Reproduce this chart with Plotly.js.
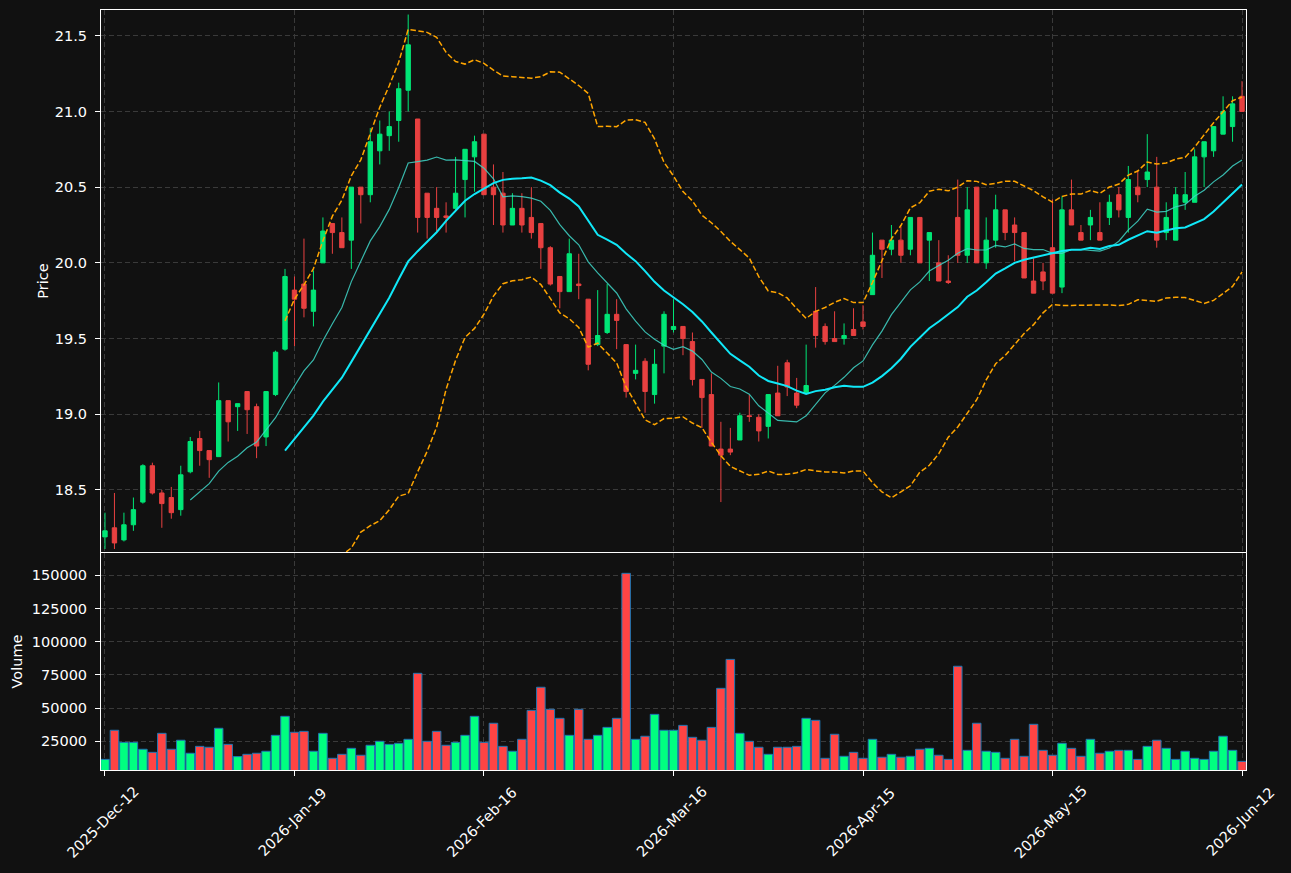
<!DOCTYPE html>
<html><head><meta charset="utf-8">
<script src="https://cdn.plot.ly/plotly-3.0.1.min.js"></script>
<style>html,body{margin:0;padding:0;background:#111111;}#chart{width:1291px;height:873px;}</style>
</head><body><div id="chart"></div>
<script>
// x tick labels (every 20th session)
const tickIndex = [0, 20, 40, 60, 80, 100, 120];
const tickLabels = ['2025-Dec-12', '2026-Jan-19', '2026-Feb-16', '2026-Mar-16', '2026-Apr-15', '2026-May-15', '2026-Jun-12'];

const openP = [18.19,18.25,18.17,18.27,18.42,18.66,18.48,18.45,18.37,18.62,
18.84,18.76,18.72,19.09,19.05,19.15,19.05,18.85,19.13,19.43,
19.82,19.86,19.68,20.00,20.26,20.20,20.15,20.50,20.45,20.74,
20.84,20.94,21.14,20.95,20.46,20.36,20.31,20.36,20.55,20.70,
20.85,20.50,20.46,20.25,20.36,20.30,20.26,20.10,19.91,19.81,
19.86,19.76,19.46,19.54,19.66,19.46,19.27,19.35,19.13,19.45,
19.56,19.58,19.48,19.23,19.13,18.77,18.77,18.83,18.99,18.98,
18.92,19.14,19.34,19.14,19.14,19.68,19.58,19.50,19.50,19.56,
19.61,19.79,20.15,20.09,20.15,20.09,20.30,20.15,20.00,19.88,
20.30,20.05,20.50,20.00,20.15,20.35,20.25,20.20,19.88,19.94,
20.10,19.84,20.35,20.20,20.25,20.20,20.30,20.45,20.30,20.50,
20.55,20.50,20.20,20.15,20.40,20.40,20.70,20.74,20.85,20.90,
21.10];

const highP = [18.35,18.48,18.35,18.45,18.67,18.68,18.50,18.52,18.66,18.85,
18.89,18.76,19.21,19.09,19.07,19.15,19.07,19.15,19.42,19.96,
19.91,20.16,19.95,20.30,20.26,20.30,20.50,20.50,20.89,20.94,
21.00,21.19,21.64,20.95,20.46,20.50,20.40,20.70,20.75,20.84,
20.85,20.65,20.60,20.46,20.46,20.50,20.26,20.11,19.91,20.16,
20.06,19.76,19.82,19.86,19.76,19.46,19.46,19.37,19.43,19.68,
19.76,19.58,19.54,19.23,19.27,18.95,18.91,19.01,19.13,19.00,
19.13,19.32,19.36,19.24,19.46,19.84,19.60,19.68,19.60,19.70,
19.72,20.20,20.15,20.25,20.24,20.30,20.30,20.20,20.15,20.05,
20.55,20.50,20.50,20.30,20.45,20.35,20.30,20.20,20.03,20.00,
20.42,20.44,20.55,20.25,20.35,20.40,20.45,20.50,20.64,20.61,
20.85,20.70,20.40,20.50,20.60,20.75,20.80,20.90,21.10,21.10,
21.20];

const lowP = [18.11,18.11,18.16,18.23,18.41,18.47,18.25,18.31,18.33,18.61,
18.66,18.58,18.72,18.82,18.89,18.87,18.71,18.79,19.12,19.42,
19.45,19.64,19.58,20.00,20.06,20.10,19.96,20.26,20.40,20.65,
20.74,20.80,21.00,20.20,20.16,20.21,20.20,20.35,20.30,20.47,
20.45,20.25,20.20,20.25,20.20,20.16,19.96,19.85,19.70,19.81,
19.76,19.29,19.45,19.53,19.43,19.11,19.23,19.01,19.07,19.27,
19.54,19.39,19.19,18.91,18.79,18.42,18.73,18.83,18.95,18.82,
18.84,18.99,19.12,19.04,19.14,19.44,19.46,19.48,19.46,19.52,
19.56,19.79,19.90,20.05,20.00,20.05,20.00,19.88,19.88,19.86,
20.00,20.00,20.00,19.96,20.10,20.15,20.01,19.90,19.80,19.82,
19.80,19.80,20.25,20.15,20.15,20.15,20.25,20.30,20.20,20.40,
20.50,20.10,20.15,20.15,20.35,20.40,20.50,20.70,20.85,20.80,
21.00];

const closeP = [18.23,18.15,18.27,18.37,18.66,18.48,18.41,18.35,18.60,18.82,
18.76,18.70,19.09,18.95,19.07,19.03,18.79,19.15,19.41,19.91,
19.76,19.70,19.82,20.21,20.20,20.10,20.50,20.45,20.80,20.85,
20.90,21.15,21.44,20.30,20.30,20.30,20.30,20.46,20.75,20.80,
20.45,20.45,20.25,20.36,20.25,20.20,20.10,19.86,19.81,20.06,
19.85,19.33,19.52,19.66,19.62,19.15,19.29,19.15,19.33,19.66,
19.58,19.50,19.23,19.11,18.79,18.73,18.75,18.99,18.985,18.89,
19.13,18.99,19.18,19.06,19.19,19.52,19.48,19.48,19.52,19.52,
19.58,20.05,20.09,20.15,20.05,20.30,20.00,20.20,19.88,19.87,
20.05,20.35,20.00,20.15,20.35,20.20,20.20,19.90,19.80,19.88,
19.80,20.35,20.25,20.15,20.30,20.15,20.40,20.35,20.55,20.45,
20.60,20.15,20.30,20.45,20.45,20.70,20.80,20.90,21.00,21.05,
21.00];

const volume = [11400,33300,24200,24200,19000,16700,31000,19000,25800,16000,
21200,20500,34800,22700,13500,15200,16000,17500,29500,43800,
31800,32500,17500,31000,12200,15200,19700,14500,22000,25000,
22700,23500,26500,76200,25000,32500,22000,24200,29500,43800,
24200,38600,21200,17500,26500,48300,65700,49100,42300,29500,
49100,26500,29500,35500,42300,151500,26500,28800,45300,33300,
33300,37000,28000,25800,35500,64900,86700,31000,25000,20500,
15200,20500,20500,21200,42300,40800,12200,30300,13700,16700,
12200,26500,13000,15200,13000,13700,19000,19700,14500,11400,
81500,18200,38600,17500,16700,12200,26500,13700,37800,18200,
14500,23500,19700,13700,26500,16000,17500,18200,18200,11400,
21200,25800,19700,11400,17500,12200,11400,17500,28800,18200,
9900];

const idx = closeP.map((_, i) => i);

// indicators derived from the close series
function sma(a, n) {
  return a.map((_, i) => {
    if (i < n - 1) return null;
    let s = 0; for (let j = i - n + 1; j <= i; j++) s += a[j];
    return s / n;
  });
}
function band(a, n, k) {
  const m = sma(a, n);
  return a.map((_, i) => {
    if (m[i] === null) return null;
    let v = 0; for (let j = i - n + 1; j <= i; j++) v += (a[j] - m[i]) ** 2;
    return m[i] + k * Math.sqrt(v / n);
  });
}
const ma10 = sma(closeP, 10);
const ma20 = sma(closeP, 20);
const bbUp = band(closeP, 20, 2);
const bbLo = band(closeP, 20, -2);

const UP = '#00e676', DOWN = '#e84040';
const VUP = '#00ff80', VDOWN = '#ff4444';
const volColors = closeP.map((c, i) => c >= openP[i] ? VUP : VDOWN);

const traces = [
  {type: 'candlestick', x: idx, open: openP, high: highP, low: lowP, close: closeP,
   xaxis: 'x', yaxis: 'y', whiskerwidth: 0, hoverinfo: 'skip',
   increasing: {line: {color: UP, width: 1}, fillcolor: UP},
   decreasing: {line: {color: DOWN, width: 1}, fillcolor: DOWN}},
  {type: 'scatter', mode: 'lines', x: idx, y: ma10, xaxis: 'x', yaxis: 'y',
   line: {color: 'rgba(64,214,200,0.85)', width: 1.2}, hoverinfo: 'skip'},
  {type: 'scatter', mode: 'lines', x: idx, y: ma20, xaxis: 'x', yaxis: 'y',
   line: {color: '#10e8f8', width: 2}, hoverinfo: 'skip'},
  {type: 'scatter', mode: 'lines', x: idx, y: bbUp, xaxis: 'x', yaxis: 'y',
   line: {color: '#FFA500', width: 1.5, dash: '5.5px,2.5px'}, hoverinfo: 'skip'},
  {type: 'scatter', mode: 'lines', x: idx, y: bbLo, xaxis: 'x', yaxis: 'y',
   line: {color: '#FFA500', width: 1.5, dash: '5.5px,2.5px'}, hoverinfo: 'skip'},
  {type: 'bar', x: idx, y: volume, xaxis: 'x2', yaxis: 'y2', width: 0.9,
   marker: {color: volColors, line: {color: '#1f77b4', width: 1}}, hoverinfo: 'skip'}
];

const FONT = 'DejaVu Sans, Verdana, sans-serif';
const GRID = '#3a3a3a';
const common = {showgrid: true, gridcolor: GRID, griddash: '5px,3px', gridwidth: 1,
  zeroline: false, showline: true, mirror: true, linecolor: '#ffffff', linewidth: 1,
  tickcolor: '#ffffff', ticklen: 5, tickfont: {family: FONT, size: 14.5, color: '#ffffff'}};

const annotations = tickIndex.map((t, k) => ({
  text: tickLabels[k], x: t, xref: 'x2', y: 0, yref: 'paper', yshift: -52, xshift: -2,
  textangle: -45, showarrow: false, xanchor: 'center', yanchor: 'middle',
  font: {family: FONT, size: 14.5, color: '#ffffff'}
}));

const layout = {
  width: 1291, height: 873,
  paper_bgcolor: '#111111', plot_bgcolor: '#111111',
  margin: {l: 101, r: 45, t: 10, b: 103},
  showlegend: false, hovermode: false,
  font: {family: FONT, color: '#ffffff', size: 14.5},
  boxgap: 0.54, boxgroupgap: 0,
  xaxis: Object.assign({}, common, {domain: [0, 1], anchor: 'y', range: [-0.42, 120.42],
    rangeslider: {visible: false}, tickmode: 'array', tickvals: tickIndex,
    showticklabels: false, ticks: ''}),
  yaxis: Object.assign({}, common, {domain: [0.2868, 1], anchor: 'x', range: [18.09, 21.67],
    tickmode: 'array', tickvals: [18.5, 19.0, 19.5, 20.0, 20.5, 21.0, 21.5], tickformat: '.1f',
    ticks: 'outside', ticklabelstandoff: 5,
    title: {text: 'Price', standoff: 2, font: {family: FONT, size: 14.5, color: '#ffffff'}}}),
  xaxis2: Object.assign({}, common, {domain: [0, 1], anchor: 'y2', range: [-0.42, 120.42],
    tickmode: 'array', tickvals: tickIndex, showticklabels: false, ticks: 'outside'}),
  yaxis2: Object.assign({}, common, {domain: [0, 0.2855], anchor: 'x2', range: [3390, 166800],
    tickmode: 'array', tickvals: [25000, 50000, 75000, 100000, 125000, 150000], tickformat: 'd',
    ticks: 'outside', ticklabelstandoff: 5,
    title: {text: 'Volume', standoff: 5, font: {family: FONT, size: 14.5, color: '#ffffff'}}}),
  annotations: annotations
};

Plotly.newPlot('chart', traces, layout, {displayModeBar: false, staticPlot: true});
</script></body></html>
